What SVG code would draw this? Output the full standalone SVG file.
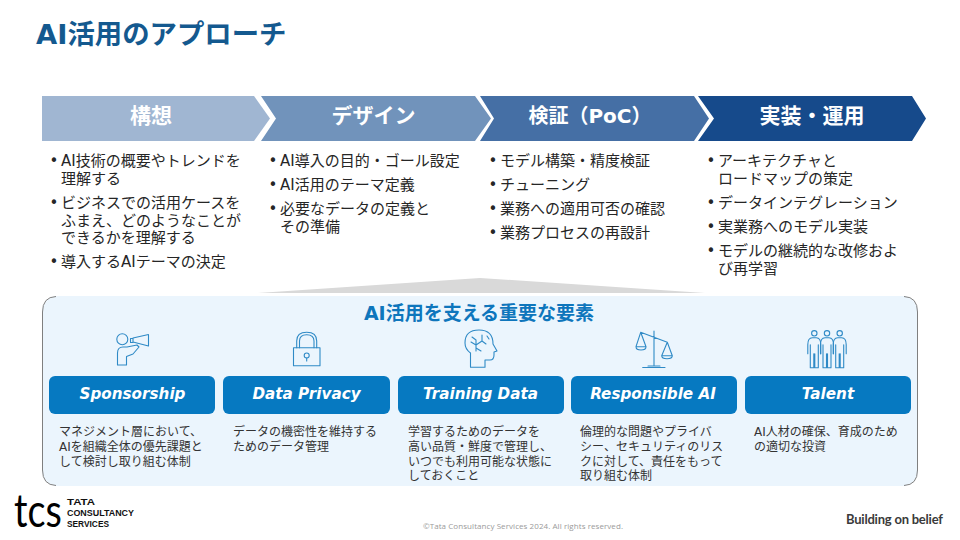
<svg xmlns="http://www.w3.org/2000/svg" xmlns:xlink="http://www.w3.org/1999/xlink" width="960" height="540" viewBox="0 0 960 540">
<style>
text{font-family:"DejaVu Sans","Noto Sans CJK JP",sans-serif}
.title{font-size:27.4px;font-weight:700;fill:#14598f}
.hd{font-size:21px;font-weight:700;fill:#fff;text-anchor:middle}
.b{font-size:15px;fill:#262626}
.s{font-size:12px;fill:#333}
.bt{font-size:15.2px;font-weight:700;font-style:italic;fill:#fff;text-anchor:middle}
.btn{fill:#0679c1}
.ic{fill:none;stroke:#2f8ac6;stroke-width:1.1;stroke-linejoin:round;stroke-linecap:round}
.lg{font-family:"Liberation Sans",sans-serif;font-size:9px;font-weight:700;fill:#111}
</style>
<defs>
<symbol id="person" overflow="visible"><path d="M-6.500 12Q-6.500 5-2 5H2Q6.500 5 6.500 12V21M-6.500 12V21M-4 12V35H-.5V21M4 12V35H.5V21"/></symbol>
</defs>
<rect width="960" height="540" fill="#fff"/>
<text class="title" x="36" y="44">AI活用のアプローチ</text>

<g id="step-1"><path d="M42 96H254L270 118.500 254 141H42Z" fill="#a0b6d2"/><text class="hd" x="151" y="123">構想</text></g>
<g id="step-2"><path d="M261 96H475L491 118.500 475 141H261L276 118.500Z" fill="#7193bb"/><text class="hd" x="373.500" y="123">デザイン</text></g>
<g id="step-3"><path d="M480 96H694L709 118.500 694 141H480L494 118.500Z" fill="#456fa5"/><text class="hd" x="590" y="123" style="font-size:20px">検証（PoC）</text></g>
<g id="step-4"><path d="M698 96H912L926 118.500 912 141H698L714 118.500Z" fill="#164a8b"/><text class="hd" x="812" y="123">実装・運用</text></g>

<g id="col-1" class="b">
<text x="49.500" y="166">•</text><text x="61" y="166">AI技術の概要やトレンドを</text><text x="61" y="184">理解する</text>
<text x="49.500" y="208">•</text><text x="61" y="208">ビジネスでの活用ケースを</text><text x="61" y="226">ふまえ、どのようなことが</text><text x="61" y="243">できるかを理解する</text>
<text x="49.500" y="267">•</text><text x="61" y="267">導入するAIテーマの決定</text>
</g>
<g id="col-2" class="b">
<text x="268.500" y="166">•</text><text x="280" y="166">AI導入の目的・ゴール設定</text>
<text x="268.500" y="190">•</text><text x="280" y="190">AI活用のテーマ定義</text>
<text x="268.500" y="214">•</text><text x="280" y="214">必要なデータの定義と</text><text x="280" y="232">その準備</text>
</g>
<g id="col-3" class="b">
<text x="488.500" y="166">•</text><text x="500" y="166">モデル構築・精度検証</text>
<text x="488.500" y="190">•</text><text x="500" y="190">チューニング</text>
<text x="488.500" y="214">•</text><text x="500" y="214">業務への適用可否の確認</text>
<text x="488.500" y="238">•</text><text x="500" y="238">業務プロセスの再設計</text>
</g>
<g id="col-4" class="b">
<text x="706.500" y="166">•</text><text x="718" y="166">アーキテクチャと</text><text x="718" y="184">ロードマップの策定</text>
<text x="706.500" y="208">•</text><text x="718" y="208">データインテグレーション</text>
<text x="706.500" y="232">•</text><text x="718" y="232">実業務へのモデル実装</text>
<text x="706.500" y="256">•</text><text x="718" y="256">モデルの継続的な改修およ</text><text x="718" y="274">び再学習</text>
</g>

<path id="pointer" d="M258 293L480 278 705 293Z" fill="#d9d9d9"/>

<g id="panel">
<rect x="42" y="296" width="876" height="190" rx="16" fill="#ebf5fd"/>
<path d="M56 296.500Q42.500 297 42.500 312V470Q42.500 485 56 485.500M904 296.500Q917.500 297 917.500 312V470Q917.500 485 904 485.500" fill="none" stroke="#7f7f7f"/>
<text x="479" y="320" text-anchor="middle" style="font-size:19px;font-weight:700;fill:#0e76bc">AI活用を支える重要な要素</text>
</g>

<g id="sponsorship">
<g class="ic"><circle cx="122.300" cy="339.300" r="5.500"/><path d="M117.500 365V353Q117.500 347 123 347H127L137 345 139 347 133 354 126.500 356.500V365ZM130.500 338.500h2.500v4h-2.500ZM133 338L148.500 334.500V346L133 342Z"/></g>
<rect class="btn" x="49" y="376" width="166" height="38" rx="6"/><text class="bt" x="132.500" y="398.500">Sponsorship</text>
<text class="s" x="59" y="436">マネジメント層において、</text><text class="s" x="59" y="451">AIを組織全体の優先課題と</text><text class="s" x="59" y="465.500">して検討し取り組む体制</text>
</g>
<g id="data-privacy">
<g class="ic"><rect x="293.500" y="347.700" width="26.500" height="18"/><path d="M296.700 347.700V341Q296.700 332.300 306.700 332.300T316.700 341V347.700M299.500 347.700V341Q299.500 334.800 306.700 334.800T314 341V347.700"/><circle cx="306.700" cy="355.500" r="2.500"/><path d="M306.700 358V361"/></g>
<rect class="btn" x="223" y="376" width="167" height="38" rx="6"/><text class="bt" x="306.500" y="398.500">Data Privacy</text>
<text class="s" x="233" y="436">データの機密性を維持する</text><text class="s" x="233" y="451">ためのデータ管理</text>
</g>
<g id="training-data">
<g class="ic"><path d="M470.500 353V367.300H485V360H490Q494 360 494 355V352L497 351 493 344Q493 330 479 330 465 330 465 343 465 349 470.500 353Z"/><path d="M476 351V345L471 342M476 345L482 341V335M476 348L481 351M472 337L476 340V345M487 336L489 339M482 341L486 344"/></g>
<rect class="btn" x="398" y="376" width="166" height="38" rx="6"/><text class="bt" x="480.500" y="398.500">Training Data</text>
<text class="s" x="408" y="436">学習するためのデータを</text><text class="s" x="408" y="451">高い品質・鮮度で管理し、</text><text class="s" x="408" y="465.500">いつでも利用可能な状態に</text><text class="s" x="408" y="480">しておくこと</text>
</g>
<g id="responsible-ai">
<g class="ic"><path d="M654 331V366M642.700 367.500H665M648 366H660M640.700 332.300L667.300 342.300M640.700 332.300L636 346.700H646ZM636 346.700Q636 350 641 350T646 346.700M667.300 342.300L661.700 355.700H672.300ZM661.700 355.700Q661.700 358.700 667 358.700T672.300 355.700"/></g>
<rect class="btn" x="571" y="376" width="166" height="38" rx="6"/><text class="bt" x="653" y="398.500">Responsible AI</text>
<text class="s" x="580" y="436">倫理的な問題やプライバ</text><text class="s" x="580" y="451">シー、セキュリティのリス</text><text class="s" x="580" y="465.500">クに対して、責任をもって</text><text class="s" x="580" y="480">取り組む体制</text>
</g>
<g id="talent">
<g class="ic"><circle cx="814.300" cy="333.300" r="2.700"/><circle cx="827" cy="333.300" r="2.700"/><circle cx="839.700" cy="333.300" r="2.700"/><use xlink:href="#person" href="#person" x="814.300" y="332.700"/><use xlink:href="#person" href="#person" x="827" y="332.700"/><use xlink:href="#person" href="#person" x="839.700" y="332.700"/></g>
<rect class="btn" x="745" y="376" width="166" height="38" rx="6"/><text class="bt" x="828" y="398.500">Talent</text>
<text class="s" x="754" y="436">AI人材の確保、育成のため</text><text class="s" x="754" y="451">の適切な投資</text>
</g>

<g id="footer">
<text transform="translate(14 527) scale(.82 1)" style="font-family:Lato,sans-serif;font-size:46px;font-weight:400;fill:#000">tcs</text>
<text class="lg" x="67" y="505" textLength="28" lengthAdjust="spacingAndGlyphs">TATA</text>
<text class="lg" x="67" y="516" textLength="67" lengthAdjust="spacingAndGlyphs">CONSULTANCY</text>
<text class="lg" x="67" y="527" textLength="42" lengthAdjust="spacingAndGlyphs">SERVICES</text>
<text x="423" y="529" style="font-family:'Open Sans',sans-serif;font-size:8px;fill:#9a9a9a" textLength="200">©Tata Consultancy Services 2024. All rights reserved.</text>
<text x="846" y="524" style="font-family:Lato,sans-serif;font-size:13px;font-weight:700;fill:#3a3a3a" textLength="97">Building on belief</text>
</g>
</svg>
